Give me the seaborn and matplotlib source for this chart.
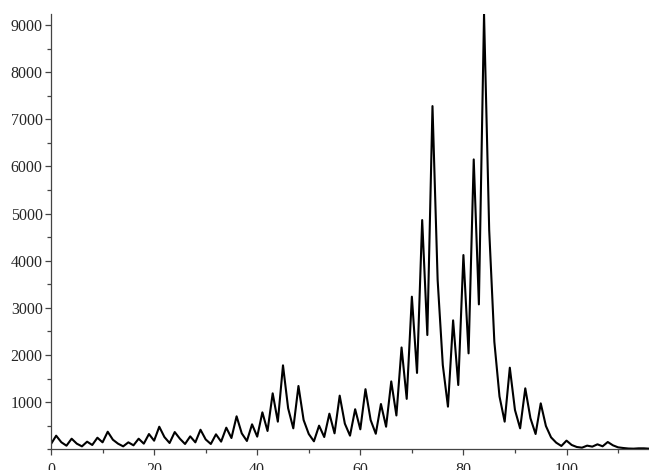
import numpy as np
import pandas as pd
import matplotlib
matplotlib.use("Agg")
import matplotlib.pyplot as plt
import seaborn as sns
from matplotlib.ticker import MultipleLocator

# values, one per integer step 0..116
steps = list(range(117))
counts = [
    113, 289, 150, 77, 225, 120, 63, 162, 92, 246,
    148, 373, 204, 120, 63, 148, 85, 225, 120, 324,
    183, 479, 260, 134, 366, 225, 113, 275, 148, 415,
    210, 113, 318, 163, 459, 240, 700, 339, 177, 530,
    269, 784, 389, 1187, 587, 1781, 869, 445, 1343, 622,
    325, 170, 502, 261, 756, 339, 1138, 544, 290, 850,
    424, 1275, 622, 330, 961, 480, 1440, 718, 2160, 1070,
    3237, 1620, 4862, 2424, 7279, 3590, 1788, 905, 2735, 1364,
    4120, 2035, 6148, 3074, 9230, 4650, 2280, 1120, 587, 1731,
    834, 445, 1293, 660, 325, 975, 495, 254, 141, 71,
    184, 92, 49, 35, 78, 57, 106, 64, 155, 85,
    42, 28, 17, 14, 21, 21, 14,
]
x_ticks = [0, 20, 40, 60, 80, 100]
y_ticks = [1000, 2000, 3000, 4000, 5000, 6000, 7000, 8000, 9000]

sns.set_style("ticks")
plt.rcParams['font.family'] = ['Liberation Serif', 'DejaVu Serif']

df = pd.DataFrame({"x": steps, "y": counts})

fig = plt.figure(figsize=(6.49, 4.70), dpi=100)
ax = fig.add_axes([0.0786, 0.044, 0.9214, 0.926])
sns.lineplot(data=df, x="x", y="y", color="black", linewidth=1.5, ax=ax)

ax.set_xlim(0, 116)
ax.set_ylim(0, 9230)
ax.set_xticks(x_ticks)
ax.set_yticks(y_ticks)
ax.xaxis.set_minor_locator(MultipleLocator(10))
ax.yaxis.set_minor_locator(MultipleLocator(500))
ax.set_xlabel("")
ax.set_ylabel("")

for side in ["top", "right"]:
    ax.spines[side].set_visible(False)
for side in ["left", "bottom"]:
    ax.spines[side].set_color("#444444")
    ax.spines[side].set_linewidth(0.9)

ax.tick_params(axis="both", which="major", direction="out", length=4,
               width=0.9, color="#444444", labelsize=11.5, pad=2)
ax.tick_params(axis="x", which="major", pad=5)
ax.tick_params(axis="both", which="minor", direction="out", length=3,
               width=0.9, color="#444444")

fig.savefig("out.png", dpi=100)
